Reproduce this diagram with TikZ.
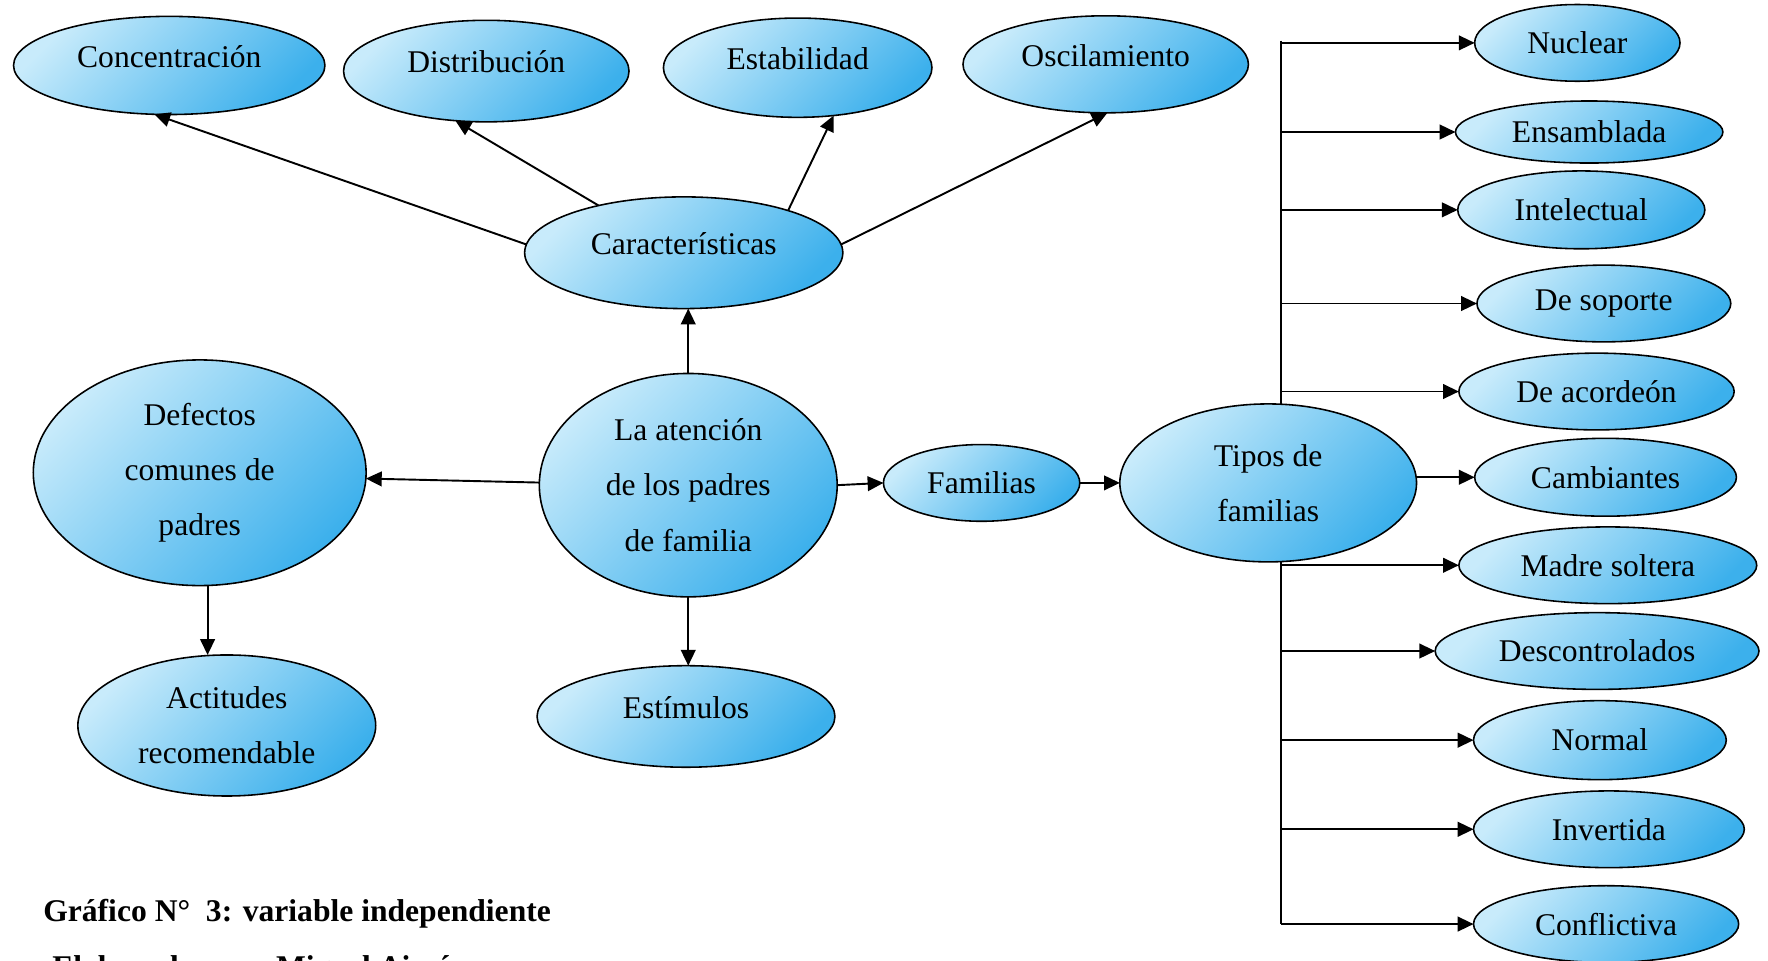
\documentclass[tikz,border=0pt]{standalone}
\usepackage{fontspec}
\setmainfont{Liberation Serif}
\usetikzlibrary{shapes.geometric,arrows.meta}
\definecolor{blight}{RGB}{200,235,251}
\definecolor{bdark}{RGB}{60,176,236}
\begin{document}
\begin{tikzpicture}[x=0.5pt,y=-0.5pt,
  bub/.style={ellipse, draw=black, line width=0.7pt, top color=blight, bottom color=bdark, shading angle=45,
    inner sep=0pt, outer sep=0pt, align=center, font=\fontsize{14}{24.5}\selectfont},
  sz/.style 2 args={minimum width=#1pt, minimum height=#2pt},
  up/.style={text height=0.72em, text depth=0.56em},
  low/.style={text height=0.6em, text depth=0.45em},
  arr/.style={-{Triangle[length=7pt,width=6.5pt]}, line width=0.85pt},
  ln/.style={line width=0.85pt},
  captxt/.style={font=\fontsize{14}{24.5}\selectfont\bfseries, inner sep=0pt, anchor=base west}]
\useasboundingbox (0,0) rectangle (1567,851);
\clip (0,0) rectangle (1567,851);
\fill[white] (0,0) rectangle (1567,851);

% top row
\node[bub, up, sz={138}{43.5}] (conc) at (150,58) {Concentración};
\node[bub, up, sz={126.5}{45}] (dist) at (431,63) {Distribución};
\node[bub, up, sz={119}{44}] (est) at (707,60) {Estabilidad};
\node[bub, up, sz={126.5}{43}] (osc) at (980,57) {Oscilamiento};
\node[bub, up, sz={141}{49.5}] (car) at (606,224) {Características};

% middle
\node[bub, sz={132}{99}] (att) at (610,430) {La atención\\de los padres\\de familia};
\node[bub, sz={147.5}{100}] (def) at (177,419) {Defectos\\comunes de\\padres};
\node[bub, sz={132}{62.5}] (act) at (201,643) {Actitudes\\recomendable};
\node[bub, up, sz={132}{45}] (estim) at (608,635) {Estímulos};
\node[bub, sz={87}{34}] (fam) at (870,428) {Familias};
\node[bub, sz={131.5}{70}] (tip) at (1124,428) {Tipos de\\familias};

% right column
\node[bub, sz={91}{34}] (nuc) at (1398,38) {Nuclear};
\node[bub, sz={118.5}{27.5}] (ens) at (1408.5,117) {Ensamblada};
\node[bub, sz={109.5}{34.5}] (int) at (1401.5,186) {Intelectual};
\node[bub, sz={112.5}{34}] (sop) at (1421.5,269) {De soporte};
\node[bub, sz={122}{34}] (aco) at (1415,347) {De acordeón};
\node[bub, sz={116}{34.5}] (camb) at (1423,423) {Cambiantes};
\node[bub, sz={132}{34}] (mad) at (1425,501) {Madre soltera};
\node[bub, sz={143.5}{34}] (des) at (1415.5,577) {Descontrolados};
\node[bub, sz={112}{35}] (nor) at (1418,656) {Normal};
\node[bub, sz={120}{34}] (inv) at (1426,735) {Invertida};
\node[bub, sz={117.5}{34}] (con) at (1423.5,819) {Conflictiva};

% caption
\node[captxt] (title) at (38,817) {Gráfico N°\ \ 3: variable independiente};
\node[captxt] (elab) at (46,866) {Elaborado por:\ \ Miguel Aimé};

% connectors around Características
\draw[arr] (car.177) -- (conc.253);
\draw[arr] (car.151) -- (dist.238);
\draw[arr] (car.22) -- (est.307);
\draw[arr] (car.3) -- (osc.272);
\draw[arr] (att.north) -- (att.north |- car.south);

% middle connectors
\draw[arr] (att.179) -- (def.358);
\draw[arr] (def.274) -- (def.274 |- act.north);
\draw[arr] (att.south) -- (att.south |- estim.north);
\draw[arr] (att.east) -- (fam.west);
\draw[arr] (fam.east) -- (tip.west);
\draw[arr] (tip.east |- camb.west) -- (camb.west);

% trunk
\coordinate (trk) at (1135,36);
\coordinate (trkb) at (1135,819);
\draw[ln] (trk) -- (trk |- tip.north);
\draw[ln] (trk |- tip.south) -- (trkb);
\foreach \n in {nuc,ens,int,sop,aco,mad,des,nor,inv,con}
  \draw[arr] (trk |- \n.west) -- (\n.west);
\end{tikzpicture}
\end{document}
